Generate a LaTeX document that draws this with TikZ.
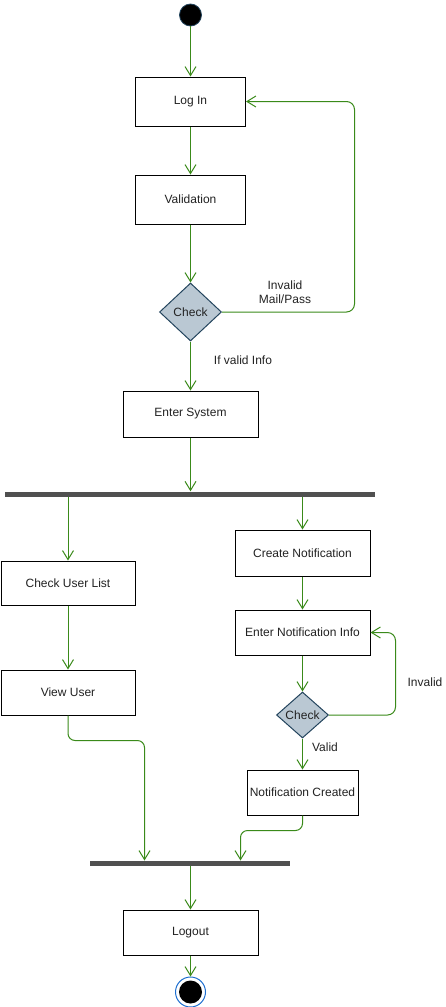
\documentclass[tikz,border=0pt]{standalone}
\usepackage{fontspec}
\setmainfont{Liberation Sans}
\usetikzlibrary{arrows.meta,shapes.geometric}
\definecolor{flow}{HTML}{3A8A1A}
\definecolor{decfill}{HTML}{BAC8D3}
\definecolor{decline}{HTML}{23445D}
\definecolor{barcol}{HTML}{505050}
\definecolor{endblue}{HTML}{1E6FD0}
\definecolor{txt}{HTML}{222222}
\tikzset{
  every node/.style={font=\fontsize{12}{14}\selectfont, text=txt},
  actbox/.style={draw=black, line width=1pt, fill=white, inner sep=0pt, rectangle},
  decbox/.style={diamond, draw=decline, fill=decfill, line width=1pt, inner sep=0pt},
  barbox/.style={rectangle, fill=barcol, draw=none, inner sep=0pt, minimum height=5pt},
  lbl/.style={inner sep=0pt, align=center},
  arr/.style={draw=flow, line width=1pt, -{Straight Barb[length=9pt,width=11pt]}},
}
\begin{document}
\begin{tikzpicture}[x=1pt,y=-1pt]
\useasboundingbox (0,0) rectangle (446,1007);
% start
\node[circle, fill=black, draw=decline, line width=0.8pt, minimum size=22pt, inner sep=0pt] (start) at (190.5,15) {};
\node[actbox, minimum width=110pt, minimum height=49pt] (login) at (190.5,101.5) {Log In};
\node[actbox, minimum width=110pt, minimum height=49pt] (valid) at (190.5,199.5) {Validation};
\node[decbox, minimum width=62pt, minimum height=58pt] (chk) at (190.5,312) {Check};
\node[actbox, minimum width=135pt, minimum height=46pt] (es) at (190.5,414) {Enter System};
\node[barbox, minimum width=370pt] (bar1) at (190,494) {};
\node[actbox, minimum width=134pt, minimum height=44pt] (cul) at (68,583) {Check User List};
\node[actbox, minimum width=134pt, minimum height=45pt] (vu) at (68,692.5) {View User};
\node[actbox, minimum width=135pt, minimum height=46pt] (cn) at (302.5,553) {Create Notification};
\node[actbox, minimum width=135pt, minimum height=45pt] (eni) at (302.5,632.5) {Enter Notification Info};
\node[decbox, minimum width=52pt, minimum height=46pt] (chk2) at (302.5,715) {Check};
\node[actbox, minimum width=111pt, minimum height=45pt] (nc) at (302.5,792.5) {Notification Created};
\node[barbox, minimum width=200pt] (bar2) at (190,863) {};
\node[actbox, minimum width=135pt, minimum height=45pt] (lo) at (190.5,932.5) {Logout};
% end
\node[circle, draw=endblue, line width=1pt, fill=white, minimum size=30pt, inner sep=0pt] (fin) at (190.5,992) {};
\node[circle, fill=black, minimum size=23pt, inner sep=0pt] (finin) at (190.5,992) {};
% labels
\node[lbl] (l1) at (285,292) {Invalid\\Mail/Pass};
\node[lbl] (l2) at (243,360) {If valid Info};
\node[lbl] (l3) at (425,682) {Invalid};
\node[lbl] (l4) at (325,747) {Valid};
% helper coordinates
\coordinate (loop1) at (354.5,0);
\coordinate (loop2) at (395.5,0);
\coordinate (j1) at (144.5,860.5);
\coordinate (j2) at (240.5,860.5);
% connectors
\draw[arr] (start.south) -- (login.north);
\draw[arr] (login.south) -- (valid.north);
\draw[arr] (valid.south) -- (chk.north);
\draw[arr, rounded corners=8pt] (chk.east) -- (chk.east -| loop1) -- (login.east -| loop1) -- (login.east);
\draw[arr] (chk.south) -- (es.north);
\draw[arr] (es.south) -- (es.south |- bar1.north);
\draw[arr] (cul.north |- bar1.south) -- (cul.north);
\draw[arr] (cn.north |- bar1.south) -- (cn.north);
\draw[arr] (cul.south) -- (vu.north);
\draw[arr] (cn.south) -- (eni.north);
\draw[arr] (eni.south) -- (chk2.north);
\draw[arr, rounded corners=8pt] (chk2.east) -- (chk2.east -| loop2) -- (eni.east -| loop2) -- (eni.east);
\draw[arr] (chk2.south) -- (nc.north);
\draw[arr, rounded corners=7pt] (vu.south) -- ++(0,25) -| (j1);
\draw[arr, rounded corners=7pt] (nc.south) -- ++(0,15) -| (j2);
\draw[arr] (lo.north |- bar2.south) -- (lo.north);
\draw[arr] (lo.south) -- (fin.north);
\end{tikzpicture}
\end{document}
